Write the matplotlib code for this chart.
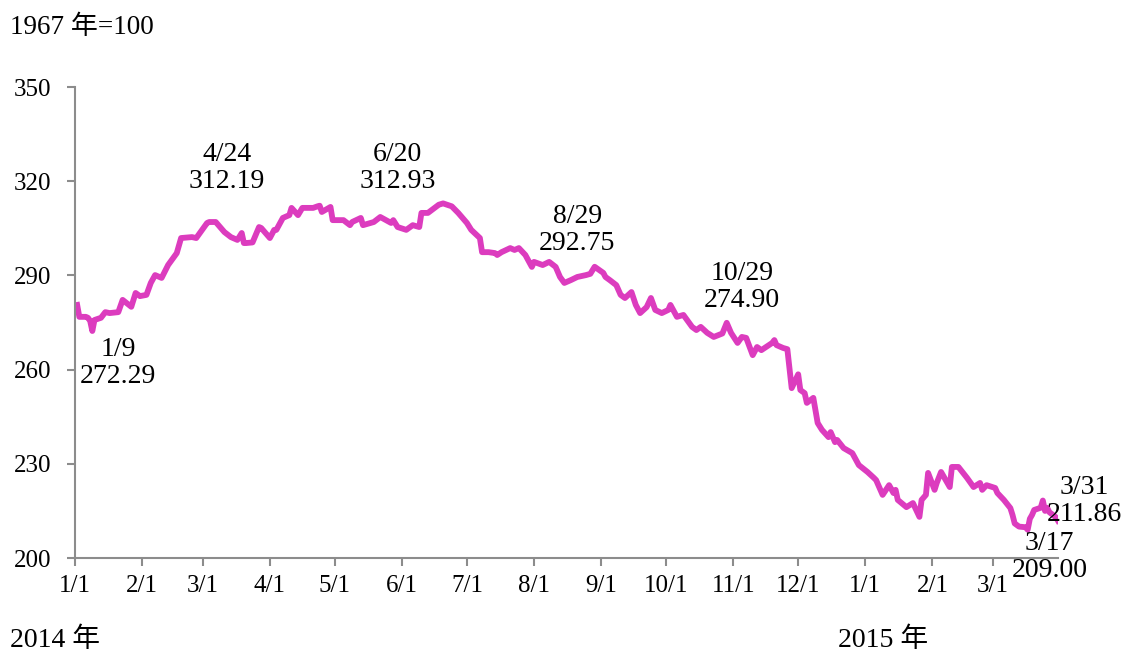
import pandas as pd
import matplotlib
matplotlib.use("Agg")
import matplotlib.pyplot as plt
import matplotlib.dates as mdates

# CRB index, 1967 = 100
dates = [
    "2014-01-02", "2014-01-03", "2014-01-06", "2014-01-07", "2014-01-08", "2014-01-09",
    "2014-01-10", "2014-01-13", "2014-01-15", "2014-01-17", "2014-01-21", "2014-01-23",
    "2014-01-27", "2014-01-29", "2014-01-31", "2014-02-03", "2014-02-05", "2014-02-07",
    "2014-02-10", "2014-02-13", "2014-02-17", "2014-02-19", "2014-02-24", "2014-02-26",
    "2014-02-28", "2014-03-03", "2014-03-04", "2014-03-07", "2014-03-11", "2014-03-14",
    "2014-03-17", "2014-03-19", "2014-03-20", "2014-03-21", "2014-03-24", "2014-03-27",
    "2014-03-28", "2014-04-01", "2014-04-03", "2014-04-04", "2014-04-07", "2014-04-10",
    "2014-04-11", "2014-04-14", "2014-04-16", "2014-04-21", "2014-04-23", "2014-04-24",
    "2014-04-25", "2014-04-29", "2014-04-30", "2014-05-05", "2014-05-08", "2014-05-09",
    "2014-05-13", "2014-05-14", "2014-05-19", "2014-05-22", "2014-05-27", "2014-05-28",
    "2014-05-30", "2014-06-03", "2014-06-06", "2014-06-09", "2014-06-10", "2014-06-13",
    "2014-06-18", "2014-06-20", "2014-06-24", "2014-06-27", "2014-07-01", "2014-07-03",
    "2014-07-07", "2014-07-08", "2014-07-11", "2014-07-14", "2014-07-15", "2014-07-17",
    "2014-07-21", "2014-07-23", "2014-07-25", "2014-07-28", "2014-07-31", "2014-08-01",
    "2014-08-05", "2014-08-08", "2014-08-11", "2014-08-13", "2014-08-15", "2014-08-18",
    "2014-08-21", "2014-08-25", "2014-08-27", "2014-08-29", "2014-09-02", "2014-09-03",
    "2014-09-05", "2014-09-08", "2014-09-10", "2014-09-12", "2014-09-15", "2014-09-17",
    "2014-09-19", "2014-09-22", "2014-09-24", "2014-09-26", "2014-09-29", "2014-10-02",
    "2014-10-03", "2014-10-06", "2014-10-09", "2014-10-13", "2014-10-15", "2014-10-17",
    "2014-10-20", "2014-10-23", "2014-10-27", "2014-10-29", "2014-10-31", "2014-11-03",
    "2014-11-05", "2014-11-07", "2014-11-10", "2014-11-12", "2014-11-14", "2014-11-19",
    "2014-11-20", "2014-11-21", "2014-11-24", "2014-11-26", "2014-11-28", "2014-12-01",
    "2014-12-02", "2014-12-04", "2014-12-05", "2014-12-08", "2014-12-09", "2014-12-10",
    "2014-12-12", "2014-12-15", "2014-12-16", "2014-12-18", "2014-12-19", "2014-12-22",
    "2014-12-26", "2014-12-29", "2015-01-02", "2015-01-05", "2015-01-06", "2015-01-09",
    "2015-01-12", "2015-01-14", "2015-01-15", "2015-01-16", "2015-01-20", "2015-01-23",
    "2015-01-26", "2015-01-27", "2015-01-29", "2015-01-30", "2015-02-02", "2015-02-03",
    "2015-02-05", "2015-02-09", "2015-02-10", "2015-02-13", "2015-02-17", "2015-02-20",
    "2015-02-23", "2015-02-24", "2015-02-26", "2015-03-02", "2015-03-03", "2015-03-06",
    "2015-03-09", "2015-03-10", "2015-03-11", "2015-03-13", "2015-03-16", "2015-03-17",
    "2015-03-18", "2015-03-19", "2015-03-20", "2015-03-23", "2015-03-24", "2015-03-25",
    "2015-03-26", "2015-03-27", "2015-03-30", "2015-03-31",
]
values = [
    280.6, 276.8, 276.8, 276.5, 275.5, 272.29,
    275.8, 276.5, 278.3, 278.0, 278.3, 282.2,
    280.0, 284.4, 283.4, 283.8, 287.6, 290.1,
    289.2, 293.3, 297.1, 301.9, 302.2, 301.9,
    303.8, 306.7, 307.0, 307.0, 303.8, 302.2,
    301.3, 303.5, 300.3, 300.3, 300.5, 305.4,
    305.1, 301.9, 304.5, 304.5, 308.3, 309.2,
    311.5, 309.2, 311.5, 311.5, 312.0, 312.19,
    310.2, 311.8, 307.6, 307.6, 306.0, 307.0,
    308.3, 306.0, 307.0, 308.6, 306.7, 307.6,
    305.4, 304.5, 306.0, 305.4, 309.9, 309.9,
    312.5, 312.93, 312.0, 309.9, 306.7, 304.5,
    301.9, 297.4, 297.4, 297.1, 296.5, 297.4,
    298.7, 298.1, 298.7, 296.5, 292.7, 294.3,
    293.3, 294.3, 292.7, 289.5, 287.6, 288.5,
    289.5, 290.1, 290.5, 292.75, 290.8, 289.5,
    288.5, 286.9, 283.8, 282.8, 284.7, 280.6,
    278.0, 279.9, 282.8, 279.0, 278.0, 279.0,
    280.6, 276.8, 277.4, 273.6, 272.6, 273.6,
    271.7, 270.4, 271.5, 274.90, 271.7, 268.5,
    270.4, 270.1, 264.6, 267.2, 266.2, 268.5,
    269.4, 267.8, 266.9, 266.5, 254.1, 258.5,
    253.5, 252.5, 249.4, 251.0, 247.1, 243.0,
    240.8, 238.5, 240.1, 236.9, 237.6, 235.0,
    233.4, 229.6, 227.4, 225.5, 224.8, 220.1,
    223.2, 220.7, 221.7, 218.5, 216.2, 217.5,
    213.1, 218.5, 220.1, 227.1, 221.7, 223.9,
    227.4, 222.6, 229.0, 229.0, 225.5, 222.6,
    223.9, 221.7, 223.2, 222.3, 220.7, 218.5,
    215.9, 213.7, 211.0, 210.0, 209.8, 209.00,
    212.5, 213.7, 215.3, 216.0, 218.3, 215.0,
    216.0, 214.6, 213.0, 211.86,
]

# annotated points: label, text anchor date, text anchor value
note_labels = ["1/9\n272.29", "4/24\n312.19", "6/20\n312.93", "8/29\n292.75",
               "10/29\n274.90", "3/31\n211.86", "3/17\n209.00"]
note_dates = ["2014-01-21", "2014-03-12", "2014-05-30", "2014-08-21",
              "2014-11-05", "2015-04-12", "2015-03-27"]
note_values = [262.1, 324.2, 324.2, 304.5, 286.3, 218.2, 200.3]

y_ticks = [200, 230, 260, 290, 320, 350]

serif = ["Liberation Serif", "Noto Sans CJK TC"]
plt.rcParams["font.family"] = serif

x = pd.to_datetime(dates)

fig = plt.figure(figsize=(11.25, 6.54), dpi=100)
ax = fig.add_axes([75 / 1125, 1 - 558 / 654, 983 / 1125, 471 / 654])

ax.plot(x, values, color="#DC3CBE", lw=4.2, solid_joinstyle="round")

ax.set_xlim(pd.Timestamp("2014-01-01"), pd.Timestamp("2015-03-31"))
ax.set_ylim(200, 350)
ax.set_yticks(y_ticks)

ax.xaxis.set_major_locator(mdates.MonthLocator())
ax.xaxis.set_major_formatter(
    matplotlib.ticker.FuncFormatter(lambda v, p: f"{mdates.num2date(v).month}/1"))

for s in ["top", "right"]:
    ax.spines[s].set_visible(False)
for s in ["left", "bottom"]:
    ax.spines[s].set_color("#8c8c8c")
    ax.spines[s].set_linewidth(1.5)
ax.tick_params(axis="both", colors="#8c8c8c", length=6, width=1.5,
               labelcolor="black", labelsize=18)
ax.tick_params(axis="y", pad=11)
ax.tick_params(axis="x", pad=6)

for lab, d, v in zip(note_labels, note_dates, note_values):
    ax.text(pd.Timestamp(d), v, lab, ha="center", va="center", fontsize=20,
            linespacing=1.1, clip_on=False)

fig.text(10 / 1125, 1 - 27 / 654, "1967 年=100", fontsize=19.5, family=serif,
         va="center", ha="left")
fig.text(10 / 1125, 1 - 640 / 654, "2014 年", fontsize=20, family=serif,
         va="center", ha="left")
fig.text(838 / 1125, 1 - 640 / 654, "2015 年", fontsize=20, family=serif,
         va="center", ha="left")

fig.savefig("out.png", dpi=100)
